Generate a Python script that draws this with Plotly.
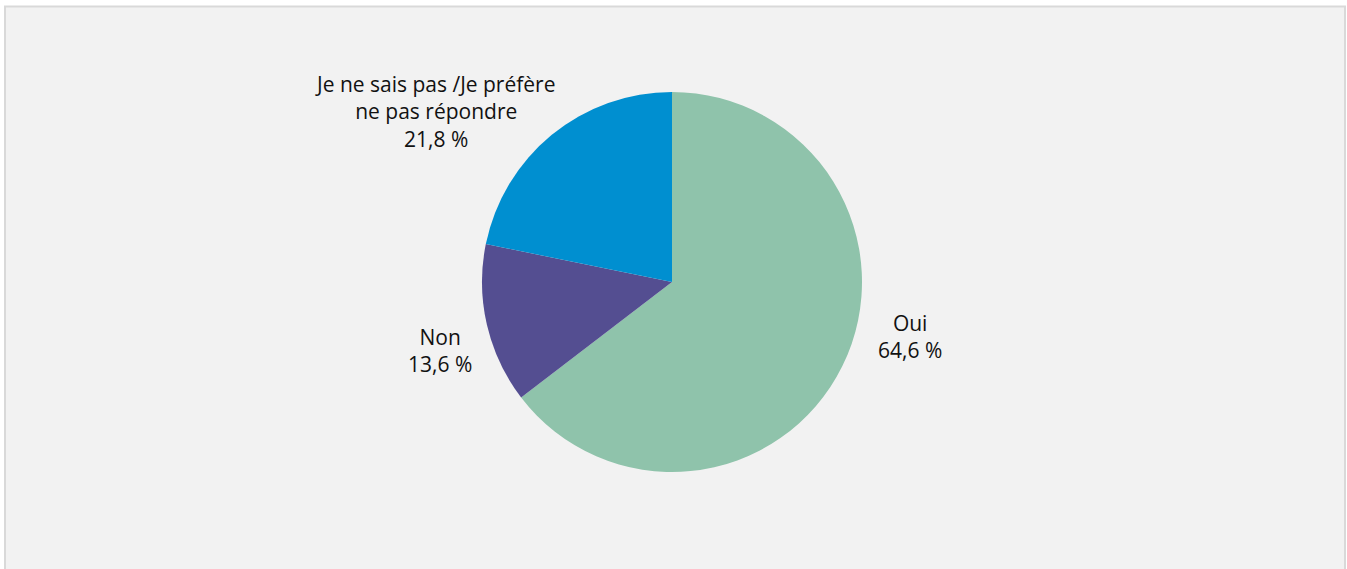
import plotly.graph_objects as go

labels = ["Oui", "Non", "Je ne sais pas /Je préfère<br>ne pas répondre"]
values = [64.6, 13.6, 21.8]
colors = ["#8FC3AB", "#544E91", "#008FD0"]

W, H = 1347, 569
cx, cy, r = 672, 282, 190

def px(x):
    return x / W

def py(y):
    return 1 - y / H

fig = go.Figure()
fig.add_trace(go.Pie(
    labels=labels,
    values=values,
    sort=False,
    direction="clockwise",
    rotation=0,
    marker=dict(colors=colors, line=dict(width=0)),
    textinfo="none",
    hoverinfo="skip",
    showlegend=False,
    domain=dict(x=[px(cx - r), px(cx + r)], y=[py(cy + r), py(cy - r)]),
))

# label positions (pixel centers)
label_pos = [(910, 336), (440, 350), (435, 111)]
for lab, val, (lx, ly) in zip(labels, values, label_pos):
    txt = f"{lab}<br>{val:.1f} %".replace(".", ",")
    fig.add_annotation(
        x=px(lx), y=py(ly), xref="paper", yref="paper",
        text=txt, showarrow=False, xanchor="center", yanchor="middle",
        align="center",
        font=dict(family="Open Sans, Noto Sans, sans-serif", size=21, color="#111111"),
    )

fig.add_shape(
    type="rect", xref="paper", yref="paper", layer="below",
    x0=px(5), x1=px(1345), y0=py(580), y1=py(6.5),
    fillcolor="#f2f2f2", line=dict(color="#d9d9d9", width=2),
)

fig.update_layout(
    width=W, height=H,
    margin=dict(l=0, r=0, t=0, b=0),
    paper_bgcolor="white",
    plot_bgcolor="white",
)

fig.write_html(
    "out.html",
    config={"displayModeBar": False},
    post_script="document.body.style.margin='0';document.body.style.overflow='hidden';",
)
